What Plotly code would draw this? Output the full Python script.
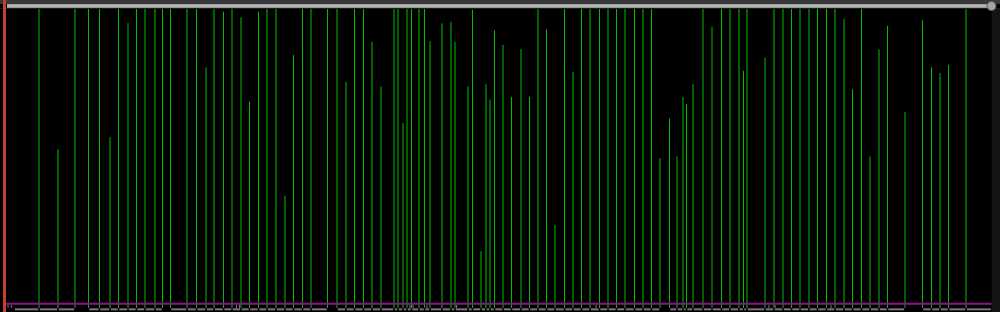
import plotly.graph_objects as go

# ---- data: event positions (time units) and their levels (0-100) ----
t = [39.0, 58.0, 75.0, 88.5, 99.5, 110.0, 118.5, 128.0, 136.5, 145.0,
     155.0, 162.5, 170.5, 187.0, 196.5, 206.0, 214.0, 223.5, 232.0, 241.0,
     249.5, 258.5, 267.0, 276.0, 285.0, 293.5, 302.5, 311.0, 327.5, 337.0,
     346.0, 354.5, 363.5, 372.0, 381.0, 394.0, 398.0, 403.0, 407.0, 411.5,
     419.0, 424.5, 430.0, 442.0, 451.0, 455.0, 468.0, 472.5, 481.0, 486.0,
     490.0, 494.5, 503.0, 511.5, 521.0, 529.5, 538.0, 546.5, 555.0, 564.5,
     573.0, 581.5, 590.0, 599.5, 608.0, 616.5, 625.0, 634.5, 643.0, 651.5,
     660.0, 669.5, 677.0, 683.0, 686.5, 693.0, 703.0, 712.0, 721.5, 730.0,
     739.0, 743.5, 747.0, 765.0, 774.0, 783.0, 791.5, 800.0, 809.0, 817.5,
     826.5, 835.0, 844.0, 852.5, 861.5, 870.0, 879.0, 887.5, 905.0, 922.5,
     931.5, 940.0, 948.5, 966.0]
level = [100, 53.1, 100, 100, 100, 57.2, 100, 95.3, 100, 100,
         100, 100, 100, 100, 100, 80.5, 100, 99.1, 100, 97.2,
         69.1, 99.1, 100, 100, 37.6, 84.6, 100, 100, 100, 100,
         75.6, 100, 100, 89.0, 74.1, 100, 100, 61.9, 100, 100,
         100, 100, 89.3, 95.2, 95.7, 89.0, 74.1, 99.7, 19.0, 74.9,
         69.7, 92.9, 88.0, 70.6, 86.6, 70.6, 100, 93.2, 27.8, 100,
         78.9, 100, 100, 100, 100, 100, 100, 100, 100, 100,
         50.1, 63.4, 50.7, 70.6, 68.2, 74.9, 100, 94.0, 100, 100,
         100, 79.3, 100, 83.7, 100, 100, 100, 100, 100, 100,
         100, 100, 96.7, 73.2, 100, 50.7, 86.5, 94.3, 65.6, 96.3,
         80.5, 78.6, 81.3, 100]

track_start = 14.0
track_end = 991.5
track_breaks = [75.0, 162.5, 327.5, 660.0, 905.0]   # intervals starting here are empty
tick_marks = [8.0, 11.3, 236.5, 239.5, 410.0, 413.0, 427.0, 456.5, 596.0, 769.0, 775.0, 831.0]
threshold = 1.44

# ---- build traces ----
W, H = 1000, 312
y_lo, y_hi = -4 / 2.99, 308 / 2.99

lx, ly = [], []
for xi, yi in zip(t, level):
    lx += [xi, xi, None]
    ly += [0, yi, None]

bounds = [track_start] + t + [track_end]
sx, sy = [], []
for a, b in zip(bounds[:-1], bounds[1:]):
    if a in track_breaks:
        continue
    sx += [a + 0.8, b - 0.8, None]
    sy += [-0.45, -0.45, None]

tx, ty = [], []
for xi in tick_marks:
    tx += [xi, xi, None]
    ty += [0.0, 1.0, None]

fig = go.Figure()
fig.add_trace(go.Scatter(x=lx, y=ly, mode="lines",
                         line=dict(color="#00c000", width=1), hoverinfo="skip"))
fig.add_trace(go.Scatter(x=sx, y=sy, mode="lines",
                         line=dict(color="#7a7a7a", width=2), hoverinfo="skip"))
fig.add_trace(go.Scatter(x=tx, y=ty, mode="lines",
                         line=dict(color="#7a7a7a", width=1), hoverinfo="skip"))


def px(x):
    return x / W


def py(y):
    return 1 - y / H


shapes = [
    # threshold line
    dict(type="line", xref="x", yref="y", x0=6, x1=991.7, y0=threshold, y1=threshold,
         line=dict(color="#8c148c", width=2), layer="above"),
    # right gutter
    dict(type="rect", xref="paper", yref="paper", x0=px(991.7), x1=1, y0=0, y1=py(9),
         fillcolor="#141416", line=dict(width=0), layer="above"),
    # top band
    dict(type="rect", xref="paper", yref="paper", x0=0, x1=1, y0=py(4), y1=1,
         fillcolor="#38383b", line=dict(width=0), layer="above"),
    dict(type="rect", xref="paper", yref="paper", x0=0, x1=1, y0=py(9), y1=py(8),
         fillcolor="#1e1e20", line=dict(width=0), layer="above"),
    # scroll bar
    dict(type="rect", xref="paper", yref="paper", x0=px(7), x1=px(991), y0=py(8), y1=py(4),
         fillcolor="#9a9a9a", line=dict(width=0), layer="above"),
    dict(type="rect", xref="paper", yref="paper", x0=px(7), x1=px(991), y0=py(6.6), y1=py(5),
         fillcolor="#bdbdbd", line=dict(width=0), layer="above"),
    # scroll knob
    dict(type="circle", xref="paper", yref="paper", x0=px(987), x1=px(996), y0=py(10.5), y1=py(1.5),
         fillcolor="#a4a4a4", line=dict(color="#5a5a5a", width=1), layer="above"),
    # cursor
    dict(type="line", xref="paper", yref="paper", x0=px(4.5), x1=px(4.5), y0=0, y1=1,
         line=dict(color="#c83e2e", width=3), layer="above"),
]

fig.update_layout(
    width=W, height=H,
    margin=dict(l=0, r=0, t=0, b=0),
    paper_bgcolor="#000000", plot_bgcolor="#000000",
    showlegend=False,
    xaxis=dict(visible=False, range=[0, W], fixedrange=True),
    yaxis=dict(visible=False, range=[y_lo, y_hi], fixedrange=True),
    shapes=shapes,
    hovermode=False,
)

fig.write_html("out.html", config=dict(displayModeBar=False))
